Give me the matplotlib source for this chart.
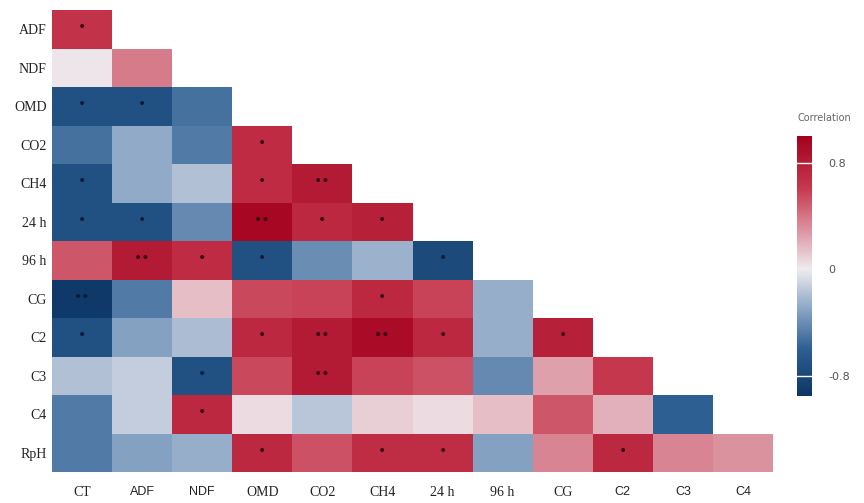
import numpy as np
import matplotlib.pyplot as plt
from matplotlib.colors import LinearSegmentedColormap, Normalize
from matplotlib.cm import ScalarMappable

# variables (rows / columns of the lower triangle)
row_labels = ['ADF', 'NDF', 'OMD', 'CO2', 'CH4', '24 h', '96 h', 'CG', 'C2', 'C3', 'C4', 'RpH']
col_labels = ['CT', 'ADF', 'NDF', 'OMD', 'CO2', 'CH4', '24 h', '96 h', 'CG', 'C2', 'C3', 'C4']

# correlation values, one list per row
corr = [
    [0.65],
    [0.02, 0.38],
    [-0.72, -0.72, -0.52],
    [-0.52, -0.28, -0.48, 0.70],
    [-0.72, -0.28, -0.18, 0.70, 0.82],
    [-0.72, -0.72, -0.42, 0.95, 0.72, 0.78],
    [0.50, 0.82, 0.70, -0.72, -0.40, -0.25, -0.78],
    [-0.92, -0.48, 0.15, 0.55, 0.57, 0.72, 0.57, -0.26],
    [-0.72, -0.32, -0.20, 0.72, 0.82, 0.92, 0.72, -0.26, 0.78],
    [-0.18, -0.13, -0.72, 0.55, 0.82, 0.57, 0.52, -0.42, 0.25, 0.62],
    [-0.48, -0.13, 0.72, 0.05, -0.16, 0.10, 0.05, 0.15, 0.50, 0.20, -0.60],
    [-0.48, -0.32, -0.26, 0.72, 0.52, 0.68, 0.68, -0.32, 0.35, 0.72, 0.35, 0.30],
]

# significance marks
stars = [
    ['*'],
    ['', ''],
    ['*', '*', ''],
    ['', '', '', '*'],
    ['*', '', '', '*', '**'],
    ['*', '*', '', '**', '*', '*'],
    ['', '**', '*', '*', '', '', '*'],
    ['**', '', '', '', '', '*', '', ''],
    ['*', '', '', '*', '**', '**', '*', '', '*'],
    ['', '', '*', '', '**', '', '', '', '', ''],
    ['', '', '*', '', '', '', '', '', '', '', ''],
    ['', '', '', '*', '', '*', '*', '', '', '*', '', ''],
]

n = len(row_labels)
mat = np.full((n, n), np.nan)
for i, row in enumerate(corr):
    mat[i, :len(row)] = row

cmap = LinearSegmentedColormap.from_list(
    'corr', [(0.0, '#08305f'), (0.2, '#2d5f92'), (0.35, '#8aa5c5'),
             (0.5, '#efebef'), (0.8, '#c73a50'), (1.0, '#a3001c')])
norm = Normalize(-1, 1)

fig = plt.figure(figsize=(8.64, 5.03), dpi=100)
ax = fig.add_axes([52 / 864, 1 - 472 / 503, 721 / 864, 462 / 503])
ax.pcolormesh(np.ma.masked_invalid(mat), cmap=cmap, norm=norm)
ax.set_xlim(0, n)
ax.set_ylim(n, 0)
for s in ax.spines.values():
    s.set_visible(False)

ax.set_yticks(np.arange(n) + 0.5)
ax.set_yticklabels(row_labels, family='Liberation Serif', fontsize=10, color='#222222')
ax.set_xticks(np.arange(n) + 0.5)
ax.set_xticklabels(col_labels, fontsize=10, color='#222222')
sans_cols = {'ADF', 'NDF', 'C2', 'C3', 'C4'}
for t in ax.get_xticklabels():
    t.set_family('Liberation Sans' if t.get_text() in sans_cols else 'Liberation Serif')
    if t.get_text() in sans_cols:
        t.set_fontsize(9)
ax.tick_params(length=0)
ax.tick_params(axis='x', pad=10)
ax.tick_params(axis='y', pad=4)

# stars as dark dots
for i, row in enumerate(stars):
    for j, s in enumerate(row):
        if not s:
            continue
        col = '#3a0612' if mat[i, j] > 0 else '#071a38'
        txt = '•' if s == '*' else '••'
        ax.text(j + 0.5, i + 0.45, txt, ha='center', va='center',
                fontsize=10, color=col)

# colorbar
cax = fig.add_axes([797 / 864, 1 - 396 / 503, 15 / 864, 260 / 503])
cb = fig.colorbar(ScalarMappable(norm=norm, cmap=cmap), cax=cax)
cax.set_ylim(-0.95, 1.0)
cb.outline.set_visible(False)
cb.set_ticks([-0.8, 0, 0.8])
cb.set_ticklabels(['-0.8', '0', '0.8'])
cax.tick_params(length=0, labelsize=8, labelcolor='#555555', pad=12)
for v in (-0.8, 0.8):
    cax.axhline(v, color='white', lw=1)
fig.text(798 / 864, 1 - 118 / 503, 'Correlation', fontsize=7, color='#666666',
         va='center', ha='left')

fig.savefig('out.png', dpi=100)
